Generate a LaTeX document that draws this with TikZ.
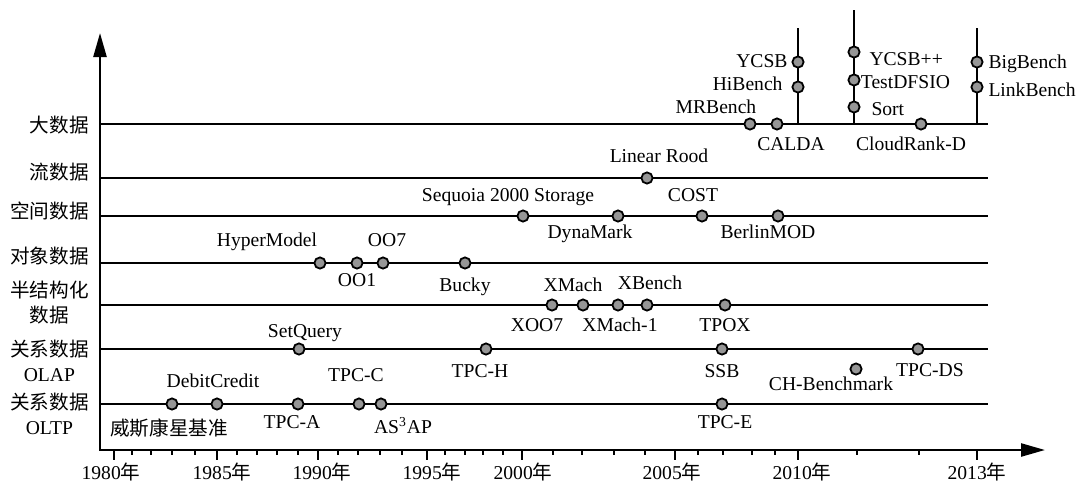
\documentclass[tikz,border=0pt]{standalone}
\usepackage{fontspec}
\setmainfont{Liberation Serif}
\newfontfamily\cjk{Noto Sans CJK SC}
\usetikzlibrary{arrows.meta, positioning}
\definecolor{dotgray}{RGB}{150,150,150}

\begin{document}
\begin{tikzpicture}[
  x=0.5pt, y=-0.5pt,
  font=\fontsize{9.8}{12.5}\selectfont,
  axis/.style={line width=1.2pt,
               {Triangle[length=12pt,width=6.5pt]}-{Triangle[length=12pt,width=6.5pt]}},
  track/.style={line width=1pt},
  tick/.style={line width=1pt},
  bench/.style={circle, draw=black, fill=dotgray, line width=0.9pt,
                inner sep=0pt, minimum size=5.6pt},
  lbl/.style={inner sep=0pt, text height=6.6pt, text depth=1.8pt},
  cat/.style={anchor=east, align=center, inner sep=0pt},
  year/.style={anchor=base, inner sep=0pt},
]
\useasboundingbox (0,0) rectangle (1081,483);

% Axes
\coordinate (o)    at (100,450);
\coordinate (ytip) at (100,33);
\coordinate (xtip) at (1045,450);
\draw[axis] (ytip) -- (o) -- (xtip);

% Ticks and years
\foreach \x in {132,151,172,195,237,257,277,298,338,358,380,402,
                445,465,483,503,553,582,614,645,698,723,752,775,857,919}
  \draw[tick] (\x,450) -- (\x,455);
\foreach \x/\lx/\yr in {114/111/1980, 217/222/1985, 318/322/1990, 427/432/1995,
                        522/523/2000, 675/672/2005, 798/802/2010, 977/977/2013} {
  \draw[tick] (\x,450) -- (\x,460);
  \node[year] (y\yr) at (\lx,479) {\yr{\cjk 年}};
}

% Tracks
\foreach \y/\n in {124/big, 178/stream, 216/spatial, 263/object,
                   305/semi, 349/olap, 404/oltp} {
  \coordinate (\n-a) at (100,\y);
  \coordinate (\n-b) at (988,\y);
  \draw[track] (\n-a) -- (\n-b);
}
\coordinate (s10) at (798,28);
\coordinate (s11) at (854,10);
\coordinate (s13) at (977,28);
\draw[track] (s10) -- (s10 |- big-a);
\draw[track] (s11) -- (s11 |- big-a);
\draw[track] (s13) -- (s13 |- big-a);

% Categories
\node[cat] (c-big)     at (89,125) {\cjk 大数据};
\node[cat] (c-stream)  at (89,172) {\cjk 流数据};
\node[cat] (c-spatial) at (89,211) {\cjk 空间数据};
\node[cat] (c-object)  at (89,256) {\cjk 对象数据};
\node[cat] (c-semi)    at (89,303) {{\cjk 半结构化}\\{\cjk 数据}};
\node[cat] (c-olap)    at (89,361) {{\cjk 关系数据}\\OLAP};
\node[cat] (c-oltp)    at (89,414) {{\cjk 关系数据}\\OLTP};

% Big data
\node[bench] (mrbench)   at (750,124) {};
\node[bench] (calda)     at (777,124) {};
\node[bench] (cloudrank) at (921,124) {};
\node[bench] (ycsb)      at (798,62)  {};
\node[bench] (hibench)   at (798,87)  {};
\node[bench] (ycsbpp)    at (854,52)  {};
\node[bench] (testdfsio) at (854,80)  {};
\node[bench] (sort)      at (854,107) {};
\node[bench] (bigbench)  at (977,62)  {};
\node[bench] (linkbench) at (977,87)  {};
\node[lbl, above=0pt of mrbench, xshift=-17pt]    (mrbench-l)   {MRBench};
\node[lbl, below=3.2pt of calda, xshift=7pt]      (calda-l)     {CALDA};
\node[lbl, below=3.2pt of cloudrank, xshift=-5pt] (cloudrank-l) {CloudRank-D};
\node[lbl, left=1.8pt of ycsb, yshift=-0.35pt]    (ycsb-l)      {YCSB};
\node[lbl, left=4.3pt of hibench, yshift=0.9pt]   (hibench-l)   {HiBench};
\node[lbl, right=4.3pt of ycsbpp, yshift=-4.1pt]  (ycsbpp-l)    {YCSB++};
\node[lbl, right=0pt of testdfsio, yshift=-1.85pt] (testdfsio-l) {TestDFSIO};
\node[lbl, right=5.3pt of sort, yshift=-1.6pt]    (sort-l)      {Sort};
\node[lbl, right=2.3pt of bigbench, yshift=-0.6pt]   (bigbench-l)  {BigBench};
\node[lbl, right=2.3pt of linkbench, yshift=-2.35pt] (linkbench-l) {LinkBench};

% Stream data
\node[bench] (linear) at (647,178) {};
\node[lbl, above=2.5pt of linear, xshift=6pt] (linear-l) {Linear Rood};

% Spatial data
\node[bench] (sequoia)  at (523,216) {};
\node[bench] (dynamark) at (618,216) {};
\node[bench] (cost)     at (702,216) {};
\node[bench] (berlin)   at (778,216) {};
\node[lbl, above=2pt of sequoia, xshift=-7.5pt]   (sequoia-l)  {Sequoia 2000 Storage};
\node[lbl, below=1.2pt of dynamark, xshift=-14pt] (dynamark-l) {DynaMark};
\node[lbl, above=2pt of cost, xshift=-4.5pt]      (cost-l)     {COST};
\node[lbl, below=1.2pt of berlin, xshift=-5pt]    (berlin-l)   {BerlinMOD};

% Object data
\node[bench] (hyper) at (320,263) {};
\node[bench] (oo1)   at (357,263) {};
\node[bench] (oo7)   at (383,263) {};
\node[bench] (bucky) at (465,263) {};
\node[lbl, above=3pt of hyper, xshift=-26.5pt] (hyper-l) {HyperModel};
\node[lbl, below=1.7pt of oo1]                 (oo1-l)   {OO1};
\node[lbl, above=3pt of oo7, xshift=2pt]       (oo7-l)   {OO7};
\node[lbl, below=4.2pt of bucky]               (bucky-l) {Bucky};

% Semi-structured data
\node[bench] (xoo7)   at (552,305) {};
\node[bench] (xmach)  at (583,305) {};
\node[bench] (xmach1) at (618,305) {};
\node[bench] (xbench) at (647,305) {};
\node[bench] (tpox)   at (725,305) {};
\node[lbl, below=3.2pt of xoo7, xshift=-7.5pt]  (xoo7-l)   {XOO7};
\node[lbl, above=1.5pt of xmach, xshift=-5pt]   (xmach-l)  {XMach};
\node[lbl, below=3.2pt of xmach1, xshift=1pt]   (xmach1-l) {XMach-1};
\node[lbl, above=2.5pt of xbench, xshift=1.5pt] (xbench-l) {XBench};
\node[lbl, below=3.2pt of tpox]                 (tpox-l)   {TPOX};

% Relational OLAP
\node[bench] (setquery) at (299,349) {};
\node[bench] (tpch)     at (486,349) {};
\node[bench] (ssb)      at (722,349) {};
\node[bench] (chbench)  at (856,369) {};
\node[bench] (tpcds)    at (918,349) {};
\node[lbl, above=0.4pt of setquery, xshift=3pt]    (setquery-l) {SetQuery};
\node[lbl, below=4.2pt of tpch, xshift=-3pt]       (tpch-l)     {TPC-H};
\node[lbl, below=4.2pt of ssb]                     (ssb-l)      {SSB};
\node[lbl, below=0.8pt of chbench, xshift=-12.5pt] (chbench-l)  {CH-Benchmark};
\node[lbl, below=3.7pt of tpcds, xshift=6pt]       (tpcds-l)    {TPC-DS};

% Relational OLTP
\node[bench] (wisc)  at (172,404) {};
\node[bench] (debit) at (217,404) {};
\node[bench] (tpca)  at (298,404) {};
\node[bench] (tpcc)  at (359,404) {};
\node[bench] (as3ap) at (381,404) {};
\node[bench] (tpce)  at (722,404) {};
\node[lbl, below=5.8pt of wisc, xshift=-1.5pt] (wisc-l)  {\cjk 威斯康星基准};
\node[lbl, above=3pt of debit, xshift=-2pt]    (debit-l) {DebitCredit};
\node[lbl, below=2.2pt of tpca, xshift=-3pt]   (tpca-l)  {TPC-A};
\node[lbl, above=6pt of tpcc, xshift=-1.5pt]   (tpcc-l)  {TPC-C};
\node[lbl, below=4.7pt of as3ap, xshift=11pt]  (as3ap-l) {AS\textsuperscript{3}AP};
\node[lbl, below=2.2pt of tpce, xshift=1.5pt]  (tpce-l)  {TPC-E};

\end{tikzpicture}
\end{document}
